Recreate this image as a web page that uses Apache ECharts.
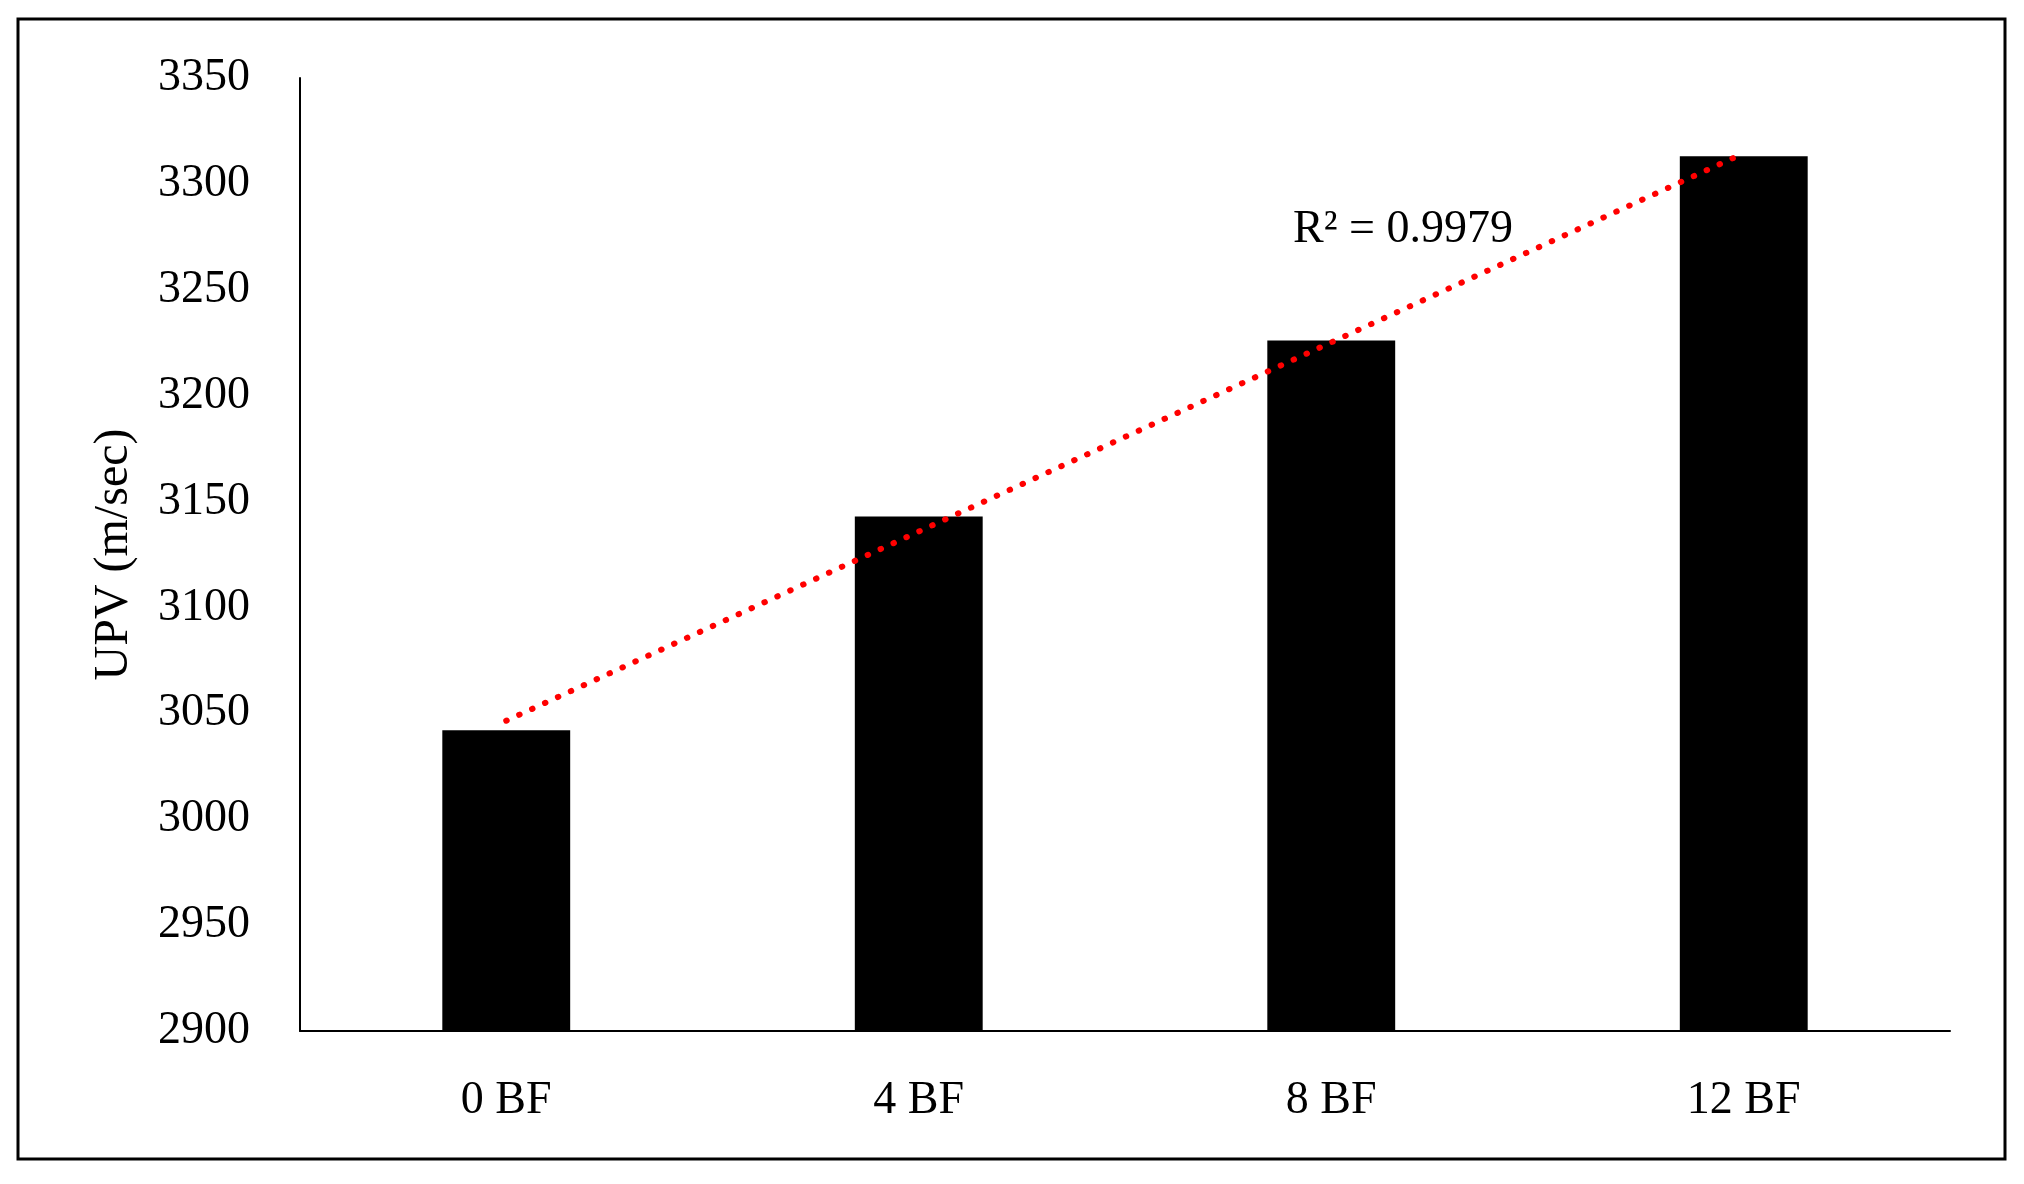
<!DOCTYPE html>
<html>
<head>
<meta charset="utf-8">
<script src="https://cdn.jsdelivr.net/npm/echarts@6/dist/echarts.min.js"></script>
<style>
html,body{margin:0;padding:0;background:#fff;}
#chart{width:2024px;height:1184px;}
</style>
</head>
<body>
<div id="chart"></div>
<script>
// Data
const categories = ['0 BF', '4 BF', '8 BF', '12 BF'];
const upvValues = [3042, 3143, 3226, 3313];
// Linear trendline ends (first and last category)
const trendValues = [3046.5, null, null, 3314.5];
const trendLabel = 'R\u00B2 = 0.9979';
const yTicks = { min: 2900, max: 3350, interval: 50 };

const FONT = "'Liberation Serif', 'Times New Roman', serif";
const chart = echarts.init(document.getElementById('chart'), null, { renderer: 'canvas' });
chart.setOption({
  backgroundColor: '#ffffff',
  animation: false,
  grid: { left: 300, top: 78, right: 74, bottom: 153, containLabel: false },
  xAxis: {
    type: 'category',
    data: categories,
    axisLine: { lineStyle: { color: '#000', width: 2 } },
    axisTick: { show: false },
    axisLabel: { color: '#000', fontFamily: FONT, fontSize: 46, margin: 47 },
    splitLine: { show: false }
  },
  yAxis: {
    type: 'value',
    min: yTicks.min,
    max: yTicks.max,
    interval: yTicks.interval,
    name: 'UPV (m/sec)',
    nameLocation: 'middle',
    nameGap: 162,
    nameRotate: 90,
    nameTextStyle: { color: '#000', fontFamily: FONT, fontSize: 48 },
    axisLine: { show: true, lineStyle: { color: '#000', width: 2 } },
    axisTick: { show: false },
    axisLabel: { color: '#000', fontFamily: FONT, fontSize: 46, margin: 50, formatter: function (v) { return String(v); } },
    splitLine: { show: false }
  },
  series: [
    {
      type: 'bar',
      data: upvValues,
      barWidth: '31%',
      itemStyle: { color: '#000' },
      z: 2
    },
    {
      type: 'line',
      data: trendValues,
      connectNulls: true,
      symbol: 'none',
      lineStyle: { color: '#ff0000', width: 6, type: [0.5, 13.7], cap: 'round' },
      z: 3
    }
  ],
  graphic: [
    {
      type: 'rect',
      shape: { x: 18, y: 19, width: 1987, height: 1140 },
      style: { fill: 'none', stroke: '#000', lineWidth: 3 },
      z: 0
    },
    {
      type: 'text',
      left: 1293,
      top: 207,
      style: { text: trendLabel, fill: '#000', font: '46px ' + FONT },
      z: 5
    }
  ]
});
</script>
</body>
</html>
